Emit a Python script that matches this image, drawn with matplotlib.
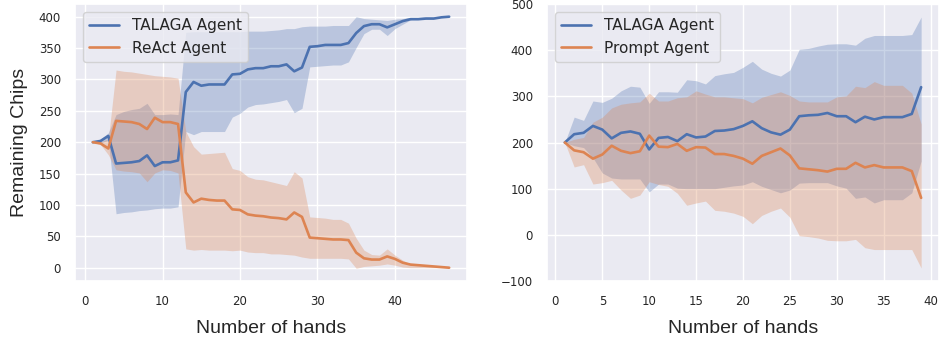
import numpy as np
import matplotlib
matplotlib.use("Agg")
import matplotlib.pyplot as plt
import seaborn as sns

sns.set_theme(style="darkgrid")
plt.rcParams['font.family'] = ['DejaVu Sans']

# left panel: TALAGA vs ReAct (47 hands)
hands_l = np.arange(1, 48)
talaga_l = [200, 202, 210, 166, 167, 168, 170, 179, 162, 168,
            168, 171, 280, 296, 290, 292, 292, 292, 308, 309,
            316, 318, 318, 321, 321, 324, 313, 319, 352, 353,
            355, 355, 355, 358, 374, 385, 388, 388, 383, 388,
            393, 396, 396, 397, 397, 399, 400]
talaga_l_hi = [200, 205, 215, 244, 249, 252, 254, 262, 244, 244,
               245, 244, 375, 376, 376, 376, 376, 376, 376, 376,
               377, 377, 377, 378, 379, 381, 381, 384, 385, 385,
               385, 386, 386, 386, 400, 397, 396, 395, 394, 396,
               397, 399, 399, 400, 400, 400, 400]
talaga_l_lo = [200, 199, 203, 86, 88, 89, 91, 92, 94, 95,
               95, 97, 217, 212, 217, 217, 217, 217, 240, 246,
               256, 260, 261, 263, 265, 268, 247, 254, 320, 321,
               322, 323, 323, 328, 351, 373, 380, 380, 370, 381,
               388, 395, 398, 398, 399, 400, 400]
react = [200, 198, 190, 234, 233, 232, 229, 221, 239, 232,
         232, 229, 120, 104, 110, 108, 107, 107, 93, 92,
         85, 83, 82, 80, 79, 77, 88, 81, 48, 47,
         46, 45, 45, 44, 24, 15, 13, 13, 18, 14,
         8, 5, 4, 3, 2, 1, 0]
react_hi = [200, 201, 205, 315, 313, 312, 310, 308, 306, 305,
            304, 302, 217, 193, 181, 182, 183, 184, 158, 155,
            145, 141, 140, 137, 134, 131, 153, 143, 81, 80,
            79, 77, 77, 71, 47, 28, 21, 20, 30, 20,
            12, 6, 4, 3, 2, 1, 0]
react_lo = [200, 196, 180, 156, 154, 153, 151, 137, 151, 156,
            155, 151, 30, 28, 29, 28, 28, 28, 27, 28,
            25, 24, 24, 22, 22, 21, 20, 17, 15, 15,
            15, 15, 15, 14, -1, 2, 3, 4, 6, 4,
            1, 0, 0, 0, 0, 0, 0]

# right panel: TALAGA vs Prompt (39 hands)
hands_r = np.arange(1, 40)
talaga_r = [200, 218, 221, 236, 228, 209, 221, 224, 219, 185,
            210, 212, 203, 218, 211, 213, 225, 226, 229, 236,
            246, 231, 222, 217, 228, 257, 259, 260, 264, 257,
            257, 244, 256, 250, 255, 255, 255, 262, 320]
talaga_r_hi = [200, 255, 248, 290, 287, 296, 312, 322, 320, 285,
               310, 310, 309, 336, 334, 327, 345, 349, 352, 363,
               376, 359, 350, 344, 357, 402, 404, 409, 413, 414,
               414, 411, 426, 432, 432, 432, 432, 434, 472]
talaga_r_lo = [200, 193, 189, 167, 134, 123, 121, 121, 121, 93,
               110, 110, 101, 100, 100, 100, 100, 103, 106, 108,
               115, 105, 98, 91, 97, 112, 113, 113, 113, 106,
               101, 79, 82, 69, 76, 76, 76, 91, 160]
prompt = [200, 183, 179, 165, 174, 193, 182, 177, 181, 215,
          191, 190, 197, 182, 190, 189, 175, 175, 171, 165,
          154, 171, 179, 187, 172, 144, 142, 140, 137, 143,
          143, 156, 146, 151, 146, 146, 146, 138, 80]
prompt_hi = [200, 207, 211, 244, 255, 275, 283, 286, 288, 307,
             290, 290, 297, 299, 312, 305, 299, 299, 297, 295,
             286, 298, 304, 310, 302, 290, 288, 288, 288, 299,
             301, 322, 319, 332, 324, 324, 324, 307, 240]
prompt_lo = [200, 147, 152, 110, 113, 118, 97, 79, 86, 115,
             109, 105, 90, 64, 69, 73, 53, 51, 47, 40,
             24, 42, 51, 58, 38, -2, -4, -7, -12, -13,
             -13, -10, -28, -32, -32, -32, -32, -32, -72]

blue = '#4C72B0'
orange = '#DD8452'
label_font = ['Liberation Sans', 'DejaVu Sans']

fig = plt.figure(figsize=(9.4, 3.43), dpi=100)
ax1 = fig.add_axes([0.0798, 0.181, 0.417, 0.807])
ax2 = fig.add_axes([0.5819, 0.181, 0.417, 0.807])


def draw(ax, x, a, a_lo, a_hi, b, b_lo, b_hi, b_name):
    ax.plot(x, a, color=blue, lw=1.9, label='TALAGA Agent')
    ax.fill_between(x, a_lo, a_hi, color=blue, alpha=0.3, lw=0)
    ax.plot(x, b, color=orange, lw=1.9, label=b_name)
    ax.fill_between(x, b_lo, b_hi, color=orange, alpha=0.3, lw=0)
    ax.tick_params(labelsize=8.5, pad=4)
    ax.set_xlabel('Number of hands', fontsize=14, family=label_font,
                  labelpad=9)
    ax.legend(loc='upper left', fontsize=11, handlelength=2.0,
              borderaxespad=0.5)


draw(ax1, hands_l, talaga_l, talaga_l_lo, talaga_l_hi,
     react, react_lo, react_hi, 'ReAct Agent')
ax1.set_xticks([0, 10, 20, 30, 40])
ax1.set_yticks(range(0, 401, 50))
ax1.set_ylabel('Remaining Chips', fontsize=14, family=label_font, labelpad=8)

draw(ax2, hands_r, talaga_r, talaga_r_lo, talaga_r_hi,
     prompt, prompt_lo, prompt_hi, 'Prompt Agent')
ax2.set_xticks(range(0, 41, 5))
ax2.set_yticks(range(-100, 501, 100))

fig.savefig('out.png', dpi=100)
